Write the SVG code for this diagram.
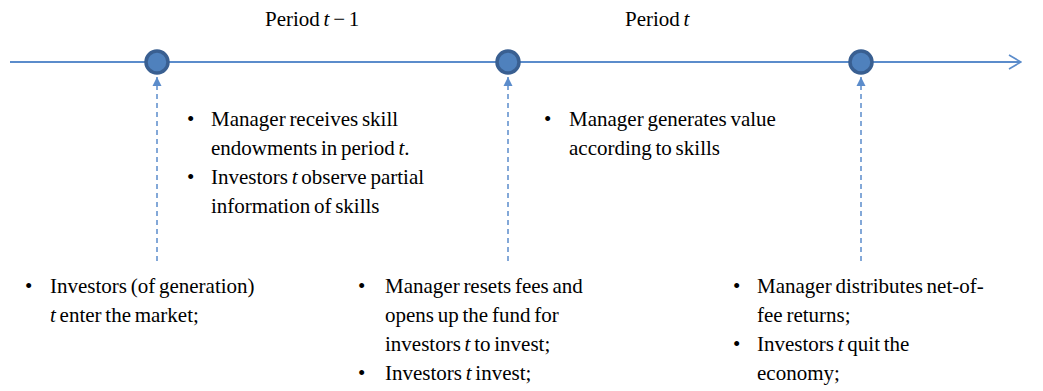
<svg xmlns="http://www.w3.org/2000/svg" width="1043" height="391" viewBox="0 0 1043 391" font-family="Liberation Serif">
  <style>
    text { font-family: "Liberation Serif", serif; font-size: 21px; fill: #000; word-spacing: -1.5px; }
    .m { font-style: italic; }
    .axis { stroke: #5b8ccb; stroke-width: 2; fill: none; }
    .dash { stroke: #5b8ccb; stroke-width: 1.5; stroke-dasharray: 5 4; fill: none; }
    .dot { fill: #4f81bd; stroke: #395f91; stroke-width: 3.5; }
  </style>
  <defs>
    <marker id="open" viewBox="0 0 14 16" refX="13" refY="8" markerWidth="14" markerHeight="16" markerUnits="userSpaceOnUse" orient="auto">
      <path d="M1,1 L13,8 L1,15" fill="none" stroke="#5b8ccb" stroke-width="1.6"/>
    </marker>
    <marker id="tri" viewBox="0 0 10 10" refX="9" refY="5" markerWidth="10" markerHeight="10" markerUnits="userSpaceOnUse" orient="auto">
      <path d="M0,0.5 L9,5 L0,9.5 Z" fill="#5b8ccb"/>
    </marker>
  </defs>

  <!-- timeline and event connectors -->
  <g id="connectors">
    <line class="axis" x1="10" y1="62" x2="1021" y2="62" marker-end="url(#open)"/>
    <line class="dash" x1="157" y1="261" x2="157" y2="77" marker-end="url(#tri)"/>
    <line class="dash" x1="508" y1="261" x2="508" y2="77" marker-end="url(#tri)"/>
    <line class="dash" x1="861" y1="261" x2="861" y2="77" marker-end="url(#tri)"/>
  </g>

  <!-- event points on the timeline -->
  <g id="point-1"><circle class="dot" cx="157" cy="62" r="11"/></g>
  <g id="point-2"><circle class="dot" cx="508" cy="62" r="11"/></g>
  <g id="point-3"><circle class="dot" cx="861" cy="62" r="11"/></g>

  <!-- period labels -->
  <text font-family="Liberation Serif" x="265" y="26">Period <tspan class="m">t</tspan> − 1</text>
  <text font-family="Liberation Serif" x="625" y="26">Period <tspan class="m">t</tspan></text>

  <!-- notes between points -->
  <g id="note-period-t-1">
    <text font-family="Liberation Serif" x="187" y="126">•</text>
    <text font-family="Liberation Serif" x="211" y="126">Manager receives skill</text>
    <text font-family="Liberation Serif" x="211" y="155">endowments in period <tspan class="m">t</tspan>.</text>
    <text font-family="Liberation Serif" x="187" y="184">•</text>
    <text font-family="Liberation Serif" x="211" y="184">Investors <tspan class="m">t</tspan> observe partial</text>
    <text font-family="Liberation Serif" x="211" y="213">information of skills</text>
  </g>
  <g id="note-period-t">
    <text font-family="Liberation Serif" x="544" y="126">•</text>
    <text font-family="Liberation Serif" x="569" y="126">Manager generates value</text>
    <text font-family="Liberation Serif" x="569" y="155">according to skills</text>
  </g>

  <!-- notes below points -->
  <g id="note-point-1">
    <text font-family="Liberation Serif" x="25" y="293">•</text>
    <text font-family="Liberation Serif" x="50" y="293">Investors (of generation)</text>
    <text font-family="Liberation Serif" x="50" y="322"><tspan class="m">t</tspan> enter the market;</text>
  </g>
  <g id="note-point-2">
    <text font-family="Liberation Serif" x="358" y="293">•</text>
    <text font-family="Liberation Serif" x="385" y="293">Manager resets fees and</text>
    <text font-family="Liberation Serif" x="385" y="322">opens up the fund for</text>
    <text font-family="Liberation Serif" x="385" y="351">investors <tspan class="m">t</tspan> to invest;</text>
    <text font-family="Liberation Serif" x="358" y="380">•</text>
    <text font-family="Liberation Serif" x="385" y="380">Investors <tspan class="m">t</tspan> invest;</text>
  </g>
  <g id="note-point-3">
    <text font-family="Liberation Serif" x="733" y="293">•</text>
    <text font-family="Liberation Serif" x="757" y="293">Manager distributes net-of-</text>
    <text font-family="Liberation Serif" x="757" y="322">fee returns;</text>
    <text font-family="Liberation Serif" x="733" y="351">•</text>
    <text font-family="Liberation Serif" x="757" y="351">Investors <tspan class="m">t</tspan> quit the</text>
    <text font-family="Liberation Serif" x="757" y="380">economy;</text>
  </g>
</svg>
